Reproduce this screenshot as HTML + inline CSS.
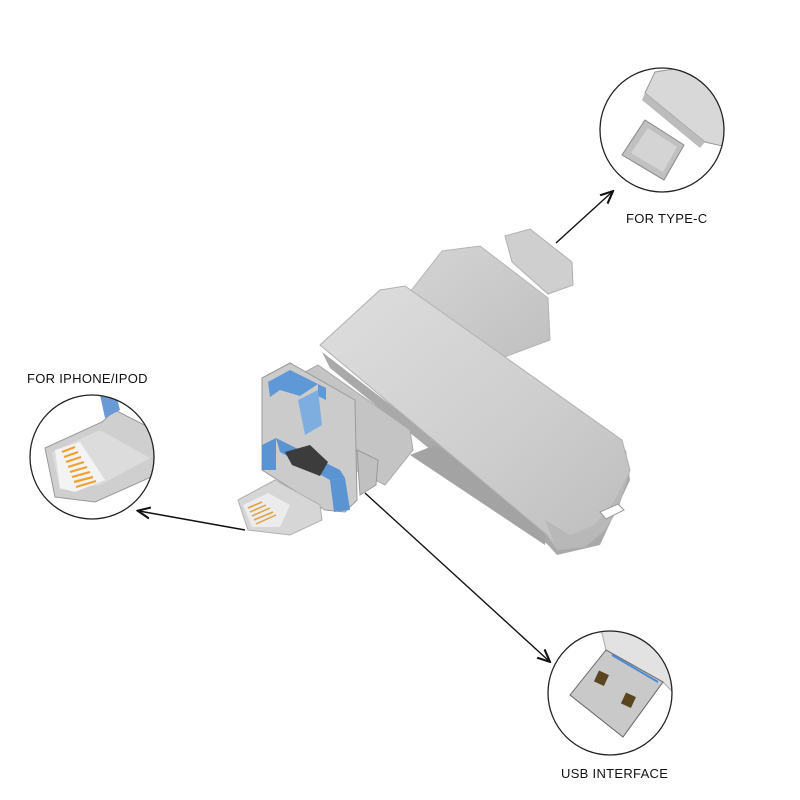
<!DOCTYPE html>
<html><head><meta charset="utf-8"><style>
html,body{margin:0;padding:0;background:#fff;width:800px;height:800px;overflow:hidden}
text{font-family:"Liberation Sans",sans-serif;font-size:13px;fill:#111;letter-spacing:0.3px}
</style></head><body>
<svg width="800" height="800" viewBox="0 0 800 800" xmlns="http://www.w3.org/2000/svg">
<defs>
<linearGradient id="s1" x1="0" y1="0" x2="1" y2="1"><stop offset="0" stop-color="#dedede"/><stop offset=".6" stop-color="#cdcdcd"/><stop offset="1" stop-color="#bdbdbd"/></linearGradient>
<linearGradient id="s2" x1="0" y1="0" x2="1" y2="1"><stop offset="0" stop-color="#d4d4d4"/><stop offset="1" stop-color="#c0c0c0"/></linearGradient>
<marker id="ah" markerWidth="10" markerHeight="10" refX="8" refY="5" orient="auto"><path d="M0,1 L9,5 L0,9" fill="none" stroke="#111" stroke-width="1.5"/></marker>
<clipPath id="c1"><circle cx="662" cy="130" r="62"/></clipPath>
<clipPath id="c2"><circle cx="92" cy="457" r="62"/></clipPath>
<clipPath id="c3"><circle cx="610" cy="693" r="62"/></clipPath>
</defs>

<!-- type-c connector -->
<polygon points="505,236 530,229 572,262 573,285 548,294 512,262" fill="#cfcfcf" stroke="#b0b0b0"/>
<!-- back body -->
<polygon points="410,292 442,251 480,246 548,298 550,340 502,358" fill="url(#s2)" stroke="#b5b5b5"/>
<!-- cover side/bottom face -->
<polygon points="322,352 330,368 548,545 557,555 600,545 630,480 626,450 540,520" fill="#a9a9a9"/>
<polygon points="410,455 435,445 545,520 545,545" fill="#a3a3a3"/>
<!-- cover top face -->
<polygon points="320,345 380,290 405,286 622,440 630,470 618,508 605,530 585,547 557,550 547,535" fill="url(#s1)" stroke="#b0b0b0"/>
<polygon points="545,520 557,550 585,547 605,530 618,508 630,470 615,500 595,525 570,535" fill="#b8b8b8"/>
<path d="M600,512 l18,-8 l6,6 l-18,9z" fill="#fff" stroke="#999"/>
<!-- hinge block -->
<polygon points="305,372 318,365 410,430 413,450 385,485 355,470" fill="#c4c4c4" stroke="#aaa"/>
<!-- module metal -->
<polygon points="262,378 290,363 355,400 357,500 345,512 325,510 262,470" fill="#cbcbcb" stroke="#9a9a9a"/>
<polygon points="268,382 290,370 318,384 300,396 280,390 270,397" fill="#5f98d6"/>
<polygon points="318,384 326,388 326,400 318,396" fill="#5f98d6"/>
<polygon points="298,400 318,390 322,425 305,435" fill="#7eaee0"/>
<polygon points="262,445 276,438 276,470 262,470" fill="#5b94d3"/>
<polygon points="276,438 340,470 345,478 330,480 280,452" fill="#5b94d3"/>
<polygon points="330,480 345,478 350,510 334,512" fill="#5b94d3"/>
<polygon points="285,452 310,445 328,462 320,476 292,465" fill="#3c3c3c"/>
<polygon points="357,450 378,460 376,485 360,495" fill="#c0c0c0" stroke="#999"/>
<!-- lightning -->
<polygon points="238,500 275,480 320,505 322,520 290,535 248,530" fill="#d6d6d6" stroke="#b0b0b0"/>
<polygon points="243,505 268,493 290,505 280,527 252,527" fill="#ececec"/>
<g stroke="#e0a040" stroke-width="1.5"><line x1="248" y1="508" x2="262" y2="502"/><line x1="250" y1="512" x2="266" y2="505"/><line x1="252" y1="516" x2="270" y2="508"/><line x1="254" y1="520" x2="273" y2="512"/><line x1="256" y1="524" x2="276" y2="515"/></g>

<!-- circle 1 : type C -->
<g clip-path="url(#c1)">
<polygon points="645,93 655,72 730,60 740,150 705,142" fill="#d8d8d8" stroke="#999"/>
<polygon points="645,93 705,142 700,148 642,100" fill="#bcbcbc"/>
<polygon points="645,120 684,145 664,180 622,155" fill="#c0c0c0" stroke="#888"/>
<polygon points="648,128 677,147 663,172 631,153" fill="#d4d4d4"/>
</g>
<circle cx="662" cy="130" r="62" fill="none" stroke="#222" stroke-width="1.3"/>

<!-- circle 2 : lightning -->
<g clip-path="url(#c2)">
<polygon points="45,448 102,422 115,410 160,433 160,473 95,502 55,497" fill="#cfcfcf" stroke="#999"/>
<polygon points="100,395 115,390 120,410 105,418" fill="#6a9ad6"/>
<polygon points="52,452 100,430 150,458 100,485 60,490" fill="#dcdcdc"/>
<polygon points="55,450 80,442 105,480 75,492 60,488" fill="#f3f3f3"/>
<g stroke="#f0a030" stroke-width="2.2"><line x1="62" y1="452" x2="75" y2="447"/><line x1="64" y1="457" x2="78" y2="452"/><line x1="66" y1="462" x2="81" y2="457"/><line x1="68" y1="467" x2="84" y2="462"/><line x1="70" y1="472" x2="87" y2="467"/><line x1="72" y1="477" x2="90" y2="472"/><line x1="74" y1="482" x2="93" y2="477"/><line x1="76" y1="487" x2="96" y2="481"/></g>
</g>
<circle cx="92" cy="457" r="62" fill="none" stroke="#222" stroke-width="1.3"/>

<!-- circle 3 : USB -->
<g clip-path="url(#c3)">
<polygon points="600,625 700,625 700,720 663,682 606,650" fill="#e2e2e2" stroke="#aaa"/>
<polygon points="570,695 606,650 663,682 623,737" fill="#c9c9c9" stroke="#666"/>
<line x1="612" y1="655" x2="658" y2="682" stroke="#4a8ad8" stroke-width="2"/>
<rect x="596" y="672" width="11" height="12" fill="#5a4520" transform="rotate(25 601 678)"/>
<rect x="623" y="694" width="11" height="12" fill="#5a4520" transform="rotate(25 628 700)"/>
</g>
<circle cx="610" cy="693" r="62" fill="none" stroke="#222" stroke-width="1.3"/>

<!-- arrows -->
<line x1="556" y1="243" x2="612" y2="192" stroke="#111" stroke-width="1.4" marker-end="url(#ah)"/>
<line x1="245" y1="530" x2="139" y2="511" stroke="#111" stroke-width="1.4" marker-end="url(#ah)"/>
<line x1="365" y1="493" x2="549" y2="661" stroke="#111" stroke-width="1.4" marker-end="url(#ah)"/>

<!-- labels -->
<text x="626" y="223">FOR TYPE-C</text>
<text x="27" y="383">FOR IPHONE/IPOD</text>
<text x="561" y="778">USB INTERFACE</text>
</svg>
</body></html>
